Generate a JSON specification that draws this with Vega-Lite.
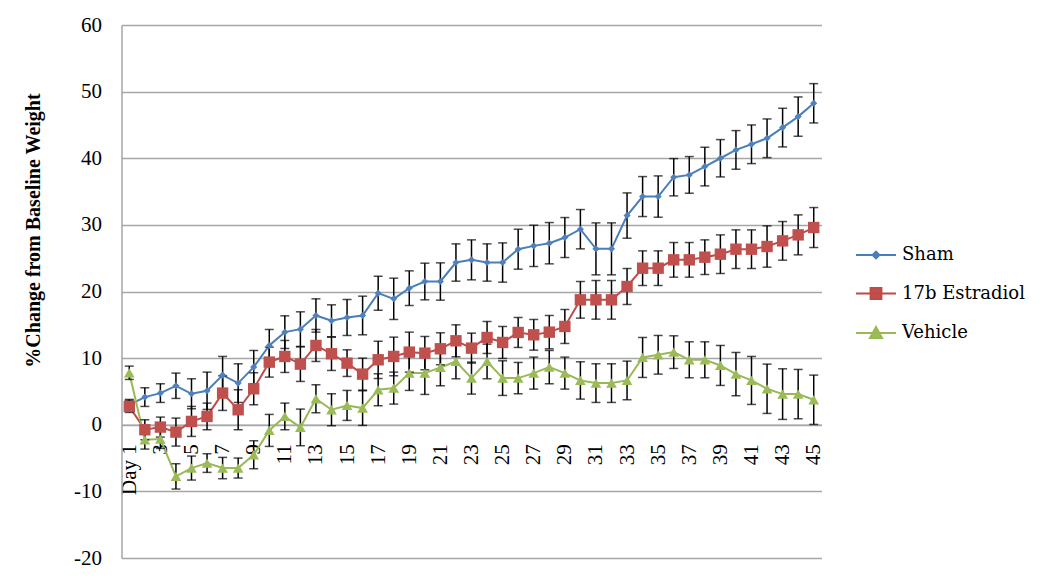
{
  "$schema": "https://vega.github.io/schema/vega-lite/v6.json",
  "width": 700,
  "height": 533,
  "autosize": {"type": "none"},
  "padding": {"left": 121.5, "top": 25, "right": 228.5, "bottom": 25},
  "background": "white",
  "config": {
    "view": {"stroke": null},
    "axis": {"labelFont": "Liberation Serif", "labelFontSize": 21, "labelColor": "#000", "titleFont": "Liberation Serif", "titleColor": "#000"},
    "legend": {"labelFont": "DejaVu Serif", "labelFontSize": 18, "labelColor": "#000"}
  },
  "data": {"values": [
    {"d":1,"s":"Sham","v":3.0,"e":0.8},{"d":2,"s":"Sham","v":4.15,"e":1.4},{"d":3,"s":"Sham","v":4.75,"e":1.4},{"d":4,"s":"Sham","v":5.85,"e":1.9},{"d":5,"s":"Sham","v":4.65,"e":2.25},
    {"d":6,"s":"Sham","v":5.1,"e":2.8},{"d":7,"s":"Sham","v":7.45,"e":2.8},{"d":8,"s":"Sham","v":6.25,"e":2.9},{"d":9,"s":"Sham","v":8.65,"e":2.5},{"d":10,"s":"Sham","v":11.9,"e":2.4},
    {"d":11,"s":"Sham","v":13.9,"e":2.45},{"d":12,"s":"Sham","v":14.35,"e":2.6},{"d":13,"s":"Sham","v":16.4,"e":2.5},{"d":14,"s":"Sham","v":15.6,"e":2.4},{"d":15,"s":"Sham","v":16.1,"e":2.7},
    {"d":16,"s":"Sham","v":16.4,"e":2.9},{"d":17,"s":"Sham","v":19.75,"e":2.55},{"d":18,"s":"Sham","v":18.9,"e":3.1},{"d":19,"s":"Sham","v":20.5,"e":2.6},{"d":20,"s":"Sham","v":21.5,"e":2.75},
    {"d":21,"s":"Sham","v":21.5,"e":2.8},{"d":22,"s":"Sham","v":24.35,"e":2.8},{"d":23,"s":"Sham","v":24.75,"e":3.0},{"d":24,"s":"Sham","v":24.35,"e":2.8},{"d":25,"s":"Sham","v":24.35,"e":2.95},
    {"d":26,"s":"Sham","v":26.35,"e":3.0},{"d":27,"s":"Sham","v":26.85,"e":3.1},{"d":28,"s":"Sham","v":27.25,"e":3.1},{"d":29,"s":"Sham","v":28.1,"e":3.0},{"d":30,"s":"Sham","v":29.35,"e":2.95},
    {"d":31,"s":"Sham","v":26.4,"e":3.9},{"d":32,"s":"Sham","v":26.4,"e":3.9},{"d":33,"s":"Sham","v":31.4,"e":3.4},{"d":34,"s":"Sham","v":34.25,"e":3.0},{"d":35,"s":"Sham","v":34.25,"e":3.1},
    {"d":36,"s":"Sham","v":37.15,"e":2.8},{"d":37,"s":"Sham","v":37.5,"e":2.75},{"d":38,"s":"Sham","v":38.75,"e":2.9},{"d":39,"s":"Sham","v":40.0,"e":2.8},{"d":40,"s":"Sham","v":41.25,"e":2.9},
    {"d":41,"s":"Sham","v":42.1,"e":2.9},{"d":42,"s":"Sham","v":43.0,"e":2.9},{"d":43,"s":"Sham","v":44.6,"e":2.9},{"d":44,"s":"Sham","v":46.25,"e":2.95},{"d":45,"s":"Sham","v":48.25,"e":2.95},
    {"d":1,"s":"17b Estradiol","v":2.75,"e":0.9},{"d":2,"s":"17b Estradiol","v":-0.75,"e":1.5},{"d":3,"s":"17b Estradiol","v":-0.35,"e":1.5},{"d":4,"s":"17b Estradiol","v":-1.1,"e":2.1},{"d":5,"s":"17b Estradiol","v":0.5,"e":2.25},
    {"d":6,"s":"17b Estradiol","v":1.25,"e":2.0},{"d":7,"s":"17b Estradiol","v":4.75,"e":2.6},{"d":8,"s":"17b Estradiol","v":2.25,"e":3.0},{"d":9,"s":"17b Estradiol","v":5.4,"e":2.4},{"d":10,"s":"17b Estradiol","v":9.4,"e":2.25},
    {"d":11,"s":"17b Estradiol","v":10.25,"e":2.4},{"d":12,"s":"17b Estradiol","v":9.1,"e":2.6},{"d":13,"s":"17b Estradiol","v":11.9,"e":2.4},{"d":14,"s":"17b Estradiol","v":10.65,"e":2.5},{"d":15,"s":"17b Estradiol","v":9.25,"e":2.0},
    {"d":16,"s":"17b Estradiol","v":7.6,"e":2.4},{"d":17,"s":"17b Estradiol","v":9.75,"e":2.8},{"d":18,"s":"17b Estradiol","v":10.25,"e":2.9},{"d":19,"s":"17b Estradiol","v":10.9,"e":3.0},{"d":20,"s":"17b Estradiol","v":10.75,"e":2.5},
    {"d":21,"s":"17b Estradiol","v":11.4,"e":2.4},{"d":22,"s":"17b Estradiol","v":12.6,"e":2.4},{"d":23,"s":"17b Estradiol","v":11.5,"e":2.25},{"d":24,"s":"17b Estradiol","v":13.1,"e":2.4},{"d":25,"s":"17b Estradiol","v":12.35,"e":2.4},
    {"d":26,"s":"17b Estradiol","v":13.85,"e":2.25},{"d":27,"s":"17b Estradiol","v":13.5,"e":2.3},{"d":28,"s":"17b Estradiol","v":13.9,"e":2.5},{"d":29,"s":"17b Estradiol","v":14.75,"e":2.55},{"d":30,"s":"17b Estradiol","v":18.75,"e":2.75},
    {"d":31,"s":"17b Estradiol","v":18.75,"e":2.9},{"d":32,"s":"17b Estradiol","v":18.75,"e":2.9},{"d":33,"s":"17b Estradiol","v":20.75,"e":2.7},{"d":34,"s":"17b Estradiol","v":23.5,"e":2.6},{"d":35,"s":"17b Estradiol","v":23.5,"e":2.6},
    {"d":36,"s":"17b Estradiol","v":24.75,"e":2.6},{"d":37,"s":"17b Estradiol","v":24.75,"e":2.6},{"d":38,"s":"17b Estradiol","v":25.15,"e":2.6},{"d":39,"s":"17b Estradiol","v":25.6,"e":2.9},{"d":40,"s":"17b Estradiol","v":26.35,"e":2.9},
    {"d":41,"s":"17b Estradiol","v":26.35,"e":2.9},{"d":42,"s":"17b Estradiol","v":26.75,"e":3.1},{"d":43,"s":"17b Estradiol","v":27.6,"e":2.9},{"d":44,"s":"17b Estradiol","v":28.5,"e":3.0},{"d":45,"s":"17b Estradiol","v":29.6,"e":3.0},
    {"d":1,"s":"Vehicle","v":7.8,"e":1.0},{"d":2,"s":"Vehicle","v":-2.25,"e":1.4},{"d":3,"s":"Vehicle","v":-2.15,"e":1.4},{"d":4,"s":"Vehicle","v":-7.75,"e":1.9},{"d":5,"s":"Vehicle","v":-6.5,"e":1.8},
    {"d":6,"s":"Vehicle","v":-5.75,"e":1.4},{"d":7,"s":"Vehicle","v":-6.5,"e":1.6},{"d":8,"s":"Vehicle","v":-6.5,"e":1.5},{"d":9,"s":"Vehicle","v":-4.5,"e":2.1},{"d":10,"s":"Vehicle","v":-0.85,"e":2.4},
    {"d":11,"s":"Vehicle","v":1.25,"e":2.0},{"d":12,"s":"Vehicle","v":-0.4,"e":2.75},{"d":13,"s":"Vehicle","v":3.9,"e":2.1},{"d":14,"s":"Vehicle","v":2.25,"e":2.4},{"d":15,"s":"Vehicle","v":2.9,"e":2.25},
    {"d":16,"s":"Vehicle","v":2.5,"e":2.6},{"d":17,"s":"Vehicle","v":5.25,"e":2.4},{"d":18,"s":"Vehicle","v":5.5,"e":2.4},{"d":19,"s":"Vehicle","v":7.75,"e":2.6},{"d":20,"s":"Vehicle","v":7.75,"e":3.2},
    {"d":21,"s":"Vehicle","v":8.6,"e":2.75},{"d":22,"s":"Vehicle","v":9.5,"e":2.6},{"d":23,"s":"Vehicle","v":7.0,"e":2.4},{"d":24,"s":"Vehicle","v":9.5,"e":2.6},{"d":25,"s":"Vehicle","v":7.0,"e":2.6},
    {"d":26,"s":"Vehicle","v":7.0,"e":2.35},{"d":27,"s":"Vehicle","v":7.75,"e":2.4},{"d":28,"s":"Vehicle","v":8.65,"e":2.5},{"d":29,"s":"Vehicle","v":7.75,"e":2.4},{"d":30,"s":"Vehicle","v":6.65,"e":2.8},
    {"d":31,"s":"Vehicle","v":6.25,"e":2.9},{"d":32,"s":"Vehicle","v":6.25,"e":2.9},{"d":33,"s":"Vehicle","v":6.65,"e":2.9},{"d":34,"s":"Vehicle","v":10.1,"e":3.0},{"d":35,"s":"Vehicle","v":10.5,"e":2.9},
    {"d":36,"s":"Vehicle","v":10.9,"e":2.45},{"d":37,"s":"Vehicle","v":9.75,"e":2.7},{"d":38,"s":"Vehicle","v":9.75,"e":2.7},{"d":39,"s":"Vehicle","v":8.9,"e":3.0},{"d":40,"s":"Vehicle","v":7.6,"e":3.25},
    {"d":41,"s":"Vehicle","v":6.65,"e":3.6},{"d":42,"s":"Vehicle","v":5.4,"e":3.7},{"d":43,"s":"Vehicle","v":4.6,"e":3.8},{"d":44,"s":"Vehicle","v":4.6,"e":3.7},{"d":45,"s":"Vehicle","v":3.75,"e":3.7}
  ]},
  "encoding": {
    "x": {"field": "d", "type": "quantitative", "scale": {"domain": [0.5, 45.5], "nice": false, "zero": false},
      "axis": {"orient": "bottom", "offset": -133.25, "title": null, "grid": false, "ticks": false,
        "domainColor": "#a6a6a6", "domainWidth": 1.5,
        "values": [1,3,5,7,9,11,13,15,17,19,21,23,25,27,29,31,33,35,37,39,41,43,45],
        "labelExpr": "datum.value == 1 ? 'Day 1' : datum.label",
        "labelAngle": -90, "labelPadding": 19, "labelOverlap": false, "labelFlush": false, "labelBound": false}},
    "y": {"field": "v", "type": "quantitative", "scale": {"domain": [-20, 60], "nice": false, "zero": false},
      "axis": {"values": [-20,-10,0,10,20,30,40,50,60], "labelExpr": "datum.value + ''", "grid": true, "gridColor": "#a6a6a6", "gridWidth": 1.5,
        "domainColor": "#a6a6a6", "domainWidth": 1.5, "ticks": false, "labelPadding": 20,
        "title": "%Change from Baseline Weight", "titleFontSize": 20, "titleFontWeight": "bold",
        "titleX": -88, "titleY": 205, "titleAngle": -90, "titleAlign": "center", "titleBaseline": "middle"}}
  },
  "layer": [
    {"mark": {"type": "line", "strokeWidth": 2},
      "encoding": {"color": {"field": "s", "type": "nominal", "scale": {"domain": ["Sham", "17b Estradiol", "Vehicle"], "range": ["#4a7ebb", "#be4b48", "#98b954"]},
        "legend": {"orient": "none", "legendX": 733.5, "legendY": 209, "title": null, "symbolSize": 1600, "symbolStrokeWidth": 2, "symbolOpacity": 1, "labelOffset": 5, "rowPadding": 8.5, "padding": 0}}}},
    {"mark": {"type": "errorbar", "color": "#000", "thickness": 1.5, "ticks": {"size": 9, "color": "#000", "thickness": 1.5}},
      "encoding": {"yError": {"field": "e"}}},
    {"transform": [{"filter": "datum.s == 'Sham'"}],
      "mark": {"type": "point", "shape": "diamond", "filled": true, "color": "#4f81bd", "opacity": 1, "size": 50}},
    {"transform": [{"filter": "datum.s == '17b Estradiol'"}],
      "mark": {"type": "point", "shape": "square", "filled": true, "color": "#c0504d", "opacity": 1, "size": 130}},
    {"transform": [{"filter": "datum.s == 'Vehicle'"}],
      "mark": {"type": "point", "shape": "triangle-up", "filled": true, "color": "#9bbb59", "opacity": 1, "size": 115}},
    {"mark": {"type": "point", "filled": true, "opacity": 0, "size": 1600, "strokeWidth": 2},
      "encoding": {
        "shape": {"field": "s", "type": "nominal", "scale": {"domain": ["Sham", "17b Estradiol", "Vehicle"], "range": [
          "M-1,0L1,0M0,-0.17L0.17,0L0,0.17L-0.17,0Z",
          "M-1,0L1,0M-0.27,-0.27L0.27,-0.27L0.27,0.27L-0.27,0.27Z",
          "M-1,0L1,0M0,-0.3L0.3,0.25L-0.3,0.25Z"]},
          "legend": {"orient": "none", "legendX": 733.5, "legendY": 209, "title": null, "symbolSize": 1600, "symbolStrokeWidth": 2, "symbolOpacity": 1, "labelOffset": 5, "rowPadding": 8.5, "padding": 0}},
        "fill": {"field": "s", "type": "nominal", "scale": {"domain": ["Sham", "17b Estradiol", "Vehicle"], "range": ["#4f81bd", "#c0504d", "#9bbb59"]},
          "legend": {"orient": "none", "legendX": 733.5, "legendY": 209, "title": null, "symbolSize": 1600, "symbolStrokeWidth": 2, "symbolOpacity": 1, "labelOffset": 5, "rowPadding": 8.5, "padding": 0}},
        "stroke": {"field": "s", "type": "nominal", "scale": {"domain": ["Sham", "17b Estradiol", "Vehicle"], "range": ["#4a7ebb", "#be4b48", "#98b954"]},
          "legend": {"orient": "none", "legendX": 733.5, "legendY": 209, "title": null, "symbolSize": 1600, "symbolStrokeWidth": 2, "symbolOpacity": 1, "labelOffset": 5, "rowPadding": 8.5, "padding": 0}}
      }}
  ]
}
